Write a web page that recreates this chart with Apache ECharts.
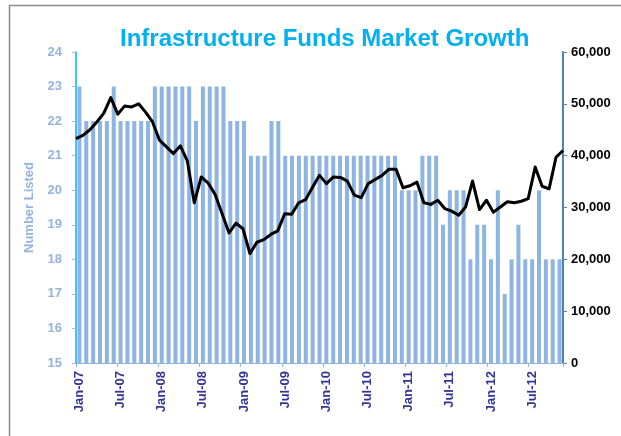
<!DOCTYPE html>
<html>
<head>
<meta charset="utf-8">
<script src="https://cdn.jsdelivr.net/npm/echarts@6/dist/echarts.min.js"></script>
<style>
html,body{margin:0;padding:0;background:#fff;}
#chart{width:621px;height:436px;}
</style>
</head>
<body>
<div id="chart"></div>
<script>
const months = [
  'Jan-07','Feb-07','Mar-07','Apr-07','May-07','Jun-07','Jul-07','Aug-07','Sep-07','Oct-07','Nov-07','Dec-07',
  'Jan-08','Feb-08','Mar-08','Apr-08','May-08','Jun-08','Jul-08','Aug-08','Sep-08','Oct-08','Nov-08','Dec-08',
  'Jan-09','Feb-09','Mar-09','Apr-09','May-09','Jun-09','Jul-09','Aug-09','Sep-09','Oct-09','Nov-09','Dec-09',
  'Jan-10','Feb-10','Mar-10','Apr-10','May-10','Jun-10','Jul-10','Aug-10','Sep-10','Oct-10','Nov-10','Dec-10',
  'Jan-11','Feb-11','Mar-11','Apr-11','May-11','Jun-11','Jul-11','Aug-11','Sep-11','Oct-11','Nov-11','Dec-11',
  'Jan-12','Feb-12','Mar-12','Apr-12','May-12','Jun-12','Jul-12','Aug-12','Sep-12','Oct-12','Nov-12'
];

// Number of funds listed (left axis)
const numberListed = [
  23,22,22,22,22,23,22,22,22,22,22,23,
  23,23,23,23,23,22,23,23,23,23,22,22,
  22,21,21,21,22,22,21,21,21,21,21,21,
  21,21,21,21,21,21,21,21,21,21,21,20,
  20,20,21,21,21,19,20,20,20,18,19,19,
  18,20,17,18,19,18,18,20,18,18,18
];

// Market capitalisation (right axis)
const marketValue = [
  43300,43900,45000,46500,48200,51200,48000,49600,49400,50000,48400,46500,
  43000,41700,40400,41900,39000,30900,35900,34700,32500,28800,25100,27000,
  25900,21100,23300,23800,24800,25500,28800,28700,30900,31500,33900,36200,
  34600,35900,35800,35100,32400,31900,34600,35400,36200,37400,37400,33800,
  34200,34900,30900,30600,31400,29800,29300,28500,30100,35100,29600,31400,
  29100,30100,31100,30900,31200,31700,37800,34100,33600,39700,41000
];

const leftTicks = {min: 15, max: 24, interval: 1};
const rightTicks = {min: 0, max: 60000, interval: 10000};

const FONT = '"Liberation Sans", Arial, sans-serif';
const chart = echarts.init(document.getElementById('chart'), null, {renderer: 'canvas'});

chart.setOption({
  animation: false,
  backgroundColor: '#fff',
  graphic: [{
    type: 'rect',
    shape: {x: 9.5, y: 5.5, width: 700, height: 500},
    style: {fill: 'none', stroke: '#8c8c8c', lineWidth: 1.5},
    silent: true,
    z: -10
  }],
  title: {
    text: 'Infrastructure Funds Market Growth',
    left: 115,
    top: 22,
    textStyle: {color: '#00b0f0', fontSize: 24, fontWeight: 'bold', fontFamily: FONT}
  },
  grid: {left: 76, right: 58, top: 52, bottom: 73, containLabel: false, outerBoundsMode: 'none'},
  xAxis: [{
    type: 'category',
    data: months,
    boundaryGap: true,
    axisLine: {lineStyle: {color: '#8db4e2', width: 1}},
    axisTick: {show: true, interval: 5, length: 4, lineStyle: {color: '#8db4e2'}},
    axisLabel: {
      interval: 5, rotate: 90, margin: 8,
      color: '#333399', fontWeight: 'bold', fontSize: 13, fontFamily: FONT
    },
    splitLine: {show: false}
  }, {
    type: 'category',
    data: months,
    boundaryGap: false,
    show: false
  }],
  yAxis: [{
    type: 'value',
    min: leftTicks.min, max: leftTicks.max, interval: leftTicks.interval,
    position: 'left',
    name: 'Number Listed',
    nameLocation: 'middle',
    nameGap: 40,
    nameRotate: 90,
    nameTextStyle: {color: '#95b3e0', fontWeight: 'bold', fontSize: 13, fontFamily: FONT},
    axisLine: {show: true, lineStyle: {color: '#00b0f0', width: 1.5}},
    axisTick: {show: true, length: 4, lineStyle: {color: '#a6b9d6'}},
    axisLabel: {color: '#95b3e0', fontWeight: 'bold', fontSize: 13, margin: 14, fontFamily: FONT},
    splitLine: {show: false}
  }, {
    type: 'value',
    min: rightTicks.min, max: rightTicks.max, interval: rightTicks.interval,
    position: 'right',
    name: 'Market Capitalisation ($m)',
    nameLocation: 'middle',
    nameGap: 54,
    nameRotate: -90,
    nameTextStyle: {color: '#000', fontWeight: 'bold', fontSize: 13, fontFamily: FONT},
    axisLine: {show: true, lineStyle: {color: '#4f81bd', width: 2}},
    axisTick: {show: true, length: 4, lineStyle: {color: '#4f81bd'}},
    axisLabel: {
      color: '#000', fontWeight: 'bold', fontSize: 13, margin: 8, fontFamily: FONT,
      formatter: v => v.toLocaleString('en-US')
    },
    splitLine: {show: false}
  }],
  series: [{
    name: 'Number Listed',
    type: 'bar',
    xAxisIndex: 0,
    yAxisIndex: 0,
    data: numberListed,
    barWidth: 4,
    itemStyle: {color: '#8db4e2'},
    z: 1
  }, {
    name: 'Market Value',
    type: 'line',
    xAxisIndex: 1,
    yAxisIndex: 1,
    data: marketValue,
    showSymbol: false,
    symbol: 'none',
    lineStyle: {color: '#000', width: 3, join: 'round'},
    z: 3
  }]
});
</script>
</body>
</html>
